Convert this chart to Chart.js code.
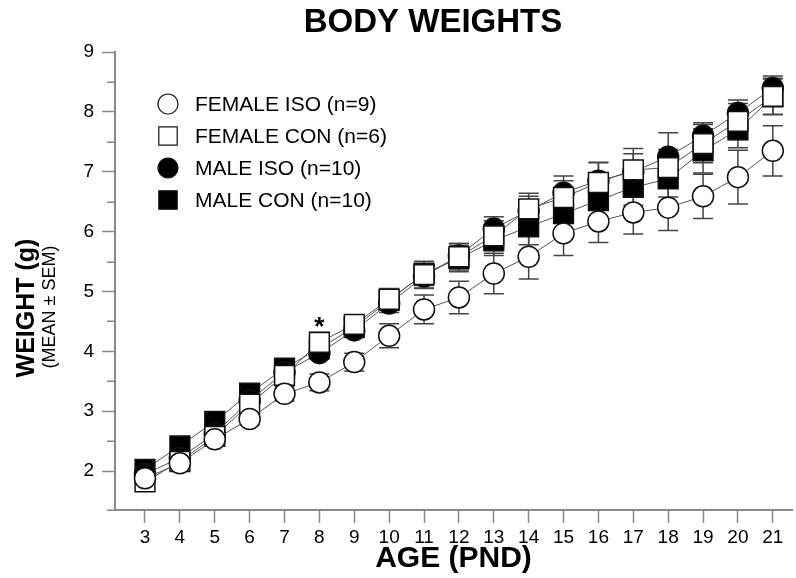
<!DOCTYPE html>
<html>
<head>
<meta charset="utf-8">
<title>Body weights</title>
<script src="https://cdn.jsdelivr.net/npm/chart.js@4.4.1/dist/chart.umd.min.js"></script>
<style>
  html, body { margin: 0; padding: 0; background: #fff; }
</style>
</head>
<body>
<canvas id="chart" width="796" height="578"></canvas>
<script>
// age in postnatal days
var days = [3, 4, 5, 6, 7, 8, 9, 10, 11, 12, 13, 14, 15, 16, 17, 18, 19, 20, 21];

// mean weights (g)
var femaleIso = [1.88, 2.13, 2.53, 2.87, 3.29, 3.48, 3.82, 4.26, 4.70, 4.90, 5.30, 5.58, 5.97, 6.17, 6.32, 6.40, 6.59, 6.91, 7.35];
var femaleCon = [1.82, 2.16, 2.58, 3.12, 3.60, 4.15, 4.45, 4.87, 5.28, 5.58, 5.93, 6.38, 6.57, 6.82, 7.03, 7.07, 7.47, 7.84, 8.26];
var maleIso   = [1.95, 2.22, 2.62, 3.18, 3.65, 3.97, 4.35, 4.80, 5.25, 5.60, 6.05, 6.35, 6.65, 6.85, 7.00, 7.25, 7.60, 7.98, 8.40];
var maleCon   = [2.03, 2.42, 2.83, 3.30, 3.72, 4.05, 4.40, 4.85, 5.30, 5.55, 5.85, 6.08, 6.30, 6.52, 6.74, 6.88, 7.35, 7.70, 8.25];

// SEM
var femaleIsoSem = [0.08, 0.09, 0.10, 0.10, 0.12, 0.14, 0.15, 0.20, 0.24, 0.27, 0.34, 0.37, 0.37, 0.35, 0.36, 0.38, 0.37, 0.45, 0.42];
var femaleConSem = [0.10, 0.10, 0.10, 0.12, 0.12, 0.17, 0.16, 0.18, 0.22, 0.22, 0.25, 0.26, 0.28, 0.34, 0.36, 0.30, 0.32, 0.30, 0.30];
var maleIsoSem   = [0.08, 0.08, 0.10, 0.10, 0.10, 0.10, 0.12, 0.15, 0.20, 0.20, 0.20, 0.24, 0.28, 0.30, 0.30, 0.40, 0.22, 0.22, 0.20];
var maleConSem   = [0.08, 0.08, 0.08, 0.10, 0.10, 0.10, 0.12, 0.15, 0.20, 0.22, 0.25, 0.30, 0.30, 0.30, 0.30, 0.30, 0.37, 0.30, 0.30];

var seriesNames = ['FEMALE ISO (n=9)', 'FEMALE CON (n=6)', 'MALE ISO (n=10)', 'MALE CON (n=10)'];
var sigDays = [8];           // days marked with *
var yTickLabels = [2, 3, 4, 5, 6, 7, 8, 9];

var FONT = "'Liberation Sans', Arial, Helvetica, sans-serif";
Chart.defaults.font.family = FONT;
Chart.defaults.color = '#000';

function points(vals) {
  return days.map(function (d, i) { return { x: d, y: vals[i] }; });
}

function makeSet(label, vals, sem, style, filled) {
  return {
    label: label,
    data: points(vals),
    sem: sem,
    borderColor: '#555',
    borderWidth: 1,
    pointStyle: style,
    pointRadius: style === 'rect' ? 14 : 10.5,
    pointBorderWidth: 1.5,
    pointBorderColor: '#111',
    pointBackgroundColor: filled ? '#000' : '#fff',
    tension: 0
  };
}

function isMajor(v) {
  return yTickLabels.indexOf(v) >= 0;
}

// whiskers behind the markers
var errorBars = {
  id: 'errorBars',
  beforeDatasetsDraw: function (chart) {
    var ctx = chart.ctx, xs = chart.scales.x, ys = chart.scales.y;
    ctx.save();
    ctx.strokeStyle = '#444';
    ctx.lineWidth = 1.5;
    chart.data.datasets.forEach(function (ds) {
      ds.data.forEach(function (p, i) {
        var x = xs.getPixelForValue(p.x);
        var top = ys.getPixelForValue(p.y + ds.sem[i]);
        var bot = ys.getPixelForValue(p.y - ds.sem[i]);
        ctx.beginPath();
        ctx.moveTo(x, top); ctx.lineTo(x, bot);
        ctx.moveTo(x - 10, top); ctx.lineTo(x + 10, top);
        ctx.moveTo(x - 10, bot); ctx.lineTo(x + 10, bot);
        ctx.stroke();
      });
    });
    ctx.restore();
  }
};

// title, y label, short minor ticks, legend, star
var extras = {
  id: 'extras',
  afterDraw: function (chart) {
    var ctx = chart.ctx, xs = chart.scales.x, ys = chart.scales.y;
    ctx.save();

    // minor y ticks (half units) are shorter than the labelled ones
    ctx.strokeStyle = '#888';
    ctx.lineWidth = 1.5;
    ys.ticks.forEach(function (t) {
      if (isMajor(t.value) || Math.abs(t.value - 1.5) < 1e-6) return;
      var y = Math.round(ys.getPixelForValue(t.value)) + 0.25;
      ctx.beginPath();
      ctx.moveTo(ys.right - 8, y);
      ctx.lineTo(ys.right, y);
      ctx.stroke();
    });

    ctx.fillStyle = '#000';
    ctx.textAlign = 'center';
    ctx.textBaseline = 'middle';
    ctx.font = 'bold 33px ' + FONT;
    ctx.fillText('BODY WEIGHTS', 433, 23);

    ctx.save();
    ctx.translate(27, 308);
    ctx.rotate(-Math.PI / 2);
    ctx.font = 'bold 25px ' + FONT;
    ctx.fillText('WEIGHT (g)', 0, 0);
    ctx.restore();
    ctx.save();
    ctx.translate(50, 307);
    ctx.rotate(-Math.PI / 2);
    ctx.font = '18px ' + FONT;
    ctx.fillText('(MEAN \u00b1 SEM)', 0, 0);
    ctx.restore();

    // significance star above female CON
    ctx.font = 'bold 26px ' + FONT;
    ctx.textBaseline = 'alphabetic';
    sigDays.forEach(function (d) {
      var i = days.indexOf(d);
      var x = xs.getPixelForValue(d);
      var y = ys.getPixelForValue(femaleCon[i] + femaleConSem[i]);
      ctx.fillText('*', x, y + 3);
    });

    // legend
    ctx.textAlign = 'left';
    ctx.textBaseline = 'middle';
    ctx.font = '21px ' + FONT;
    chart.data.datasets.forEach(function (ds, k) {
      var ly = 104 + k * 32;
      ctx.fillStyle = ds.pointBackgroundColor;
      ctx.strokeStyle = ds.pointBorderColor;
      ctx.lineWidth = 1.2;
      Chart.helpers.drawPoint(ctx, {
        pointStyle: ds.pointStyle,
        radius: ds.pointStyle === 'rect' ? 13 : 10,
        rotation: 0,
        borderWidth: 1.2
      }, 168, ly);
      ctx.fillStyle = '#000';
      ctx.fillText(ds.label, 195, ly + 1);
    });
    ctx.restore();
  }
};

new Chart(document.getElementById('chart'), {
  type: 'line',
  data: {
    datasets: [
      makeSet(seriesNames[0], femaleIso, femaleIsoSem, 'circle', false),
      makeSet(seriesNames[1], femaleCon, femaleConSem, 'rect', false),
      makeSet(seriesNames[2], maleIso, maleIsoSem, 'circle', true),
      makeSet(seriesNames[3], maleCon, maleConSem, 'rect', true)
    ]
  },
  options: {
    responsive: false,
    animation: false,
    layout: { autoPadding: false, padding: { top: 52, right: 4, left: 0, bottom: 0 } },
    plugins: { legend: { display: false }, tooltip: { enabled: false } },
    scales: {
      x: {
        type: 'linear',
        min: 2.14,
        max: 21.55,
        afterFit: function (s) { s.height = 68; },
        ticks: {
          stepSize: 1,
          autoSkip: false,
          maxRotation: 0,
          includeBounds: false,
          padding: 3,
          font: { size: 19 }
        },
        grid: { drawOnChartArea: false, tickLength: 13, tickColor: '#888', tickWidth: 1.5 },
        border: { color: '#888', width: 2 },
        title: { display: true, text: 'AGE (PND)', font: { size: 30, weight: 'bold' }, padding: { top: 0, bottom: 1 } }
      },
      y: {
        min: 1.35,
        max: 9,
        afterFit: function (s) { s.width = 115; },
        ticks: {
          stepSize: 0.5,
          padding: 8,
          font: { size: 19 },
          callback: function (v) { return isMajor(v) ? String(v) : ''; }
        },
        grid: {
          drawOnChartArea: false,
          tickLength: 13,
          tickWidth: 1.5,
          tickColor: function (c) {
            return (c.tick && isMajor(c.tick.value)) ? '#888' : 'rgba(0,0,0,0)';
          }
        },
        border: { color: '#888', width: 2 }
      }
    }
  },
  plugins: [errorBars, extras]
});
</script>
</body>
</html>
